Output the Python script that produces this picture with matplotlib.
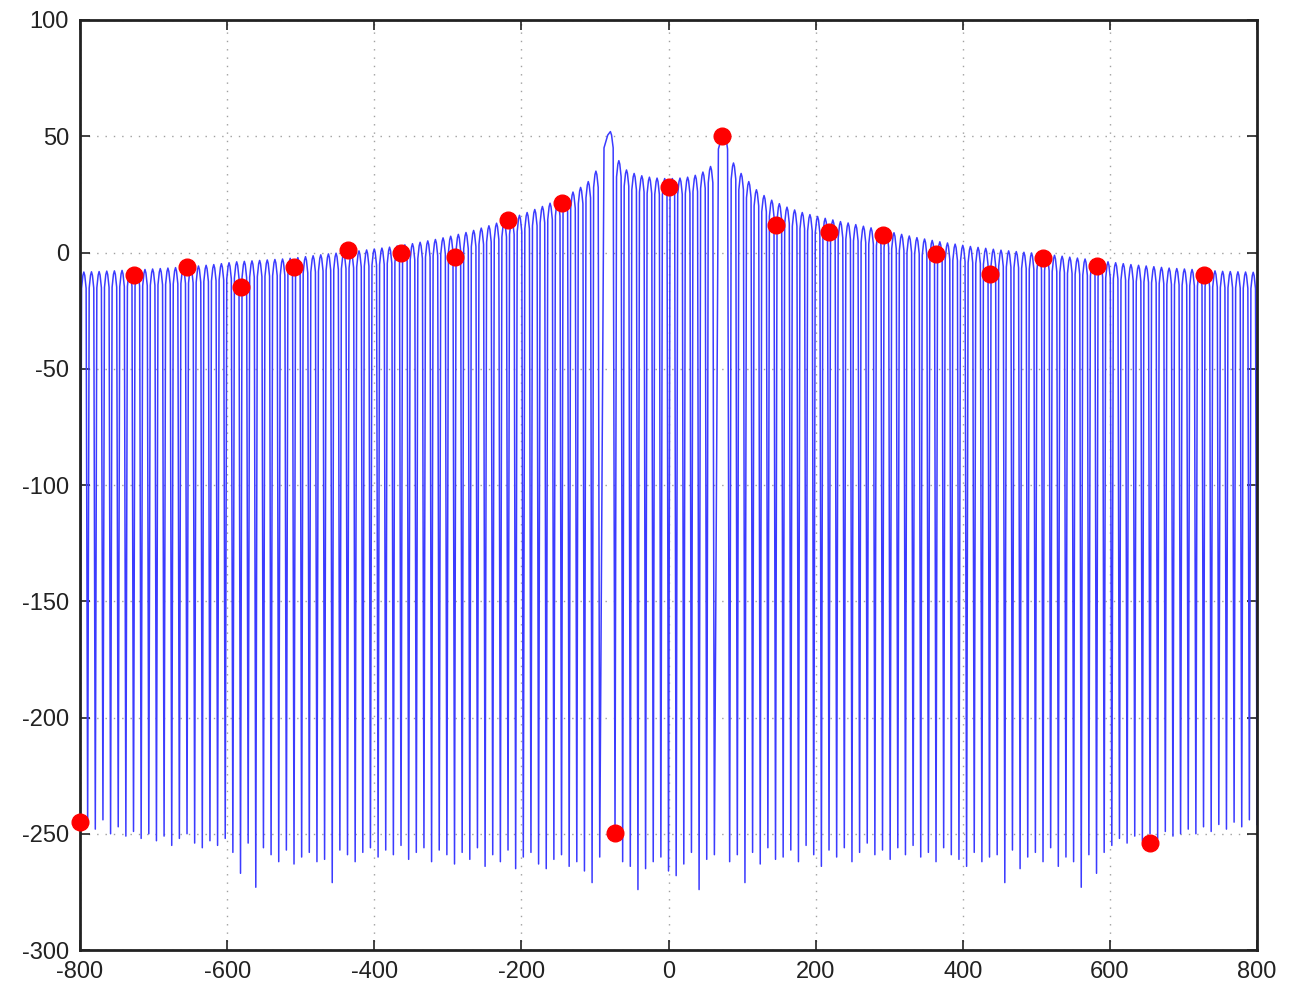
import matplotlib
matplotlib.use("Agg")
import matplotlib.pyplot as plt
import numpy as np

plt.rcParams['font.family'] = ['Liberation Sans', 'DejaVu Sans']
plt.rcParams['axes.unicode_minus'] = False

# spectrum (dB): null positions sit on a regular frequency grid, two nulls are
# missing under the main peaks
grid_x = np.linspace(-800, 800, 155)
missing_nulls = [69, 84]

# depth of each null (dB), left to right
null_db = [
    -245, -246, -248, -244, -250, -247, -251, -249, -252, -250,
    -253, -251, -255, -252, -250, -254, -256, -253, -255, -252,
    -258, -267, -254, -273, -256, -259, -262, -257, -263, -260,
    -258, -262, -261, -271, -257, -259, -262, -258, -256, -260,
    -257, -259, -255, -261, -258, -256, -262, -257, -259, -263,
    -258, -261, -256, -264, -259, -262, -257, -265, -260, -258,
    -263, -265, -261, -259, -264, -262, -266, -271, -260,
    -250, -262, -264, -274, -265, -262, -260, -266, -268, -263,
    -258, -274, -261, -259,
    -262, -259, -271, -258, -263, -256, -261, -260, -257, -262,
    -255, -259, -264, -257, -260, -256, -262, -258, -254, -259,
    -257, -261, -256, -259, -255, -260, -258, -262, -256, -259,
    -261, -264, -258, -262, -260, -259, -271, -257, -265, -260,
    -258, -262, -256, -264, -260, -262, -273, -259, -267, -258,
    -255, -252, -254, -251, -253, -250, -252, -249, -251, -250,
    -248, -250, -247, -249, -246, -248, -245, -247, -244, -246,
]

# top of each lobe (dB), left to right
lobe_db = [
    -8.4, -8.3, -8.2, -8.0, -7.9, -7.7, -7.6, -7.4, -7.3, -7.1,
    -6.9, -6.7, -6.5, -6.3, -6.1, -5.8, -5.5, -5.2, -4.8, -4.4,
    -4.0, -3.8, -3.6, -3.4, -3.2, -3.0, -2.8, -2.5, -2.2, -1.8,
    -1.4, -1.0, -0.6, -0.3, 0.0, 0.3, 0.7, 1.1, 1.5, 1.9,
    2.3, 2.8, 3.3, 3.8, 4.4, 5.0, 5.6, 6.3, 7.0, 7.8,
    8.6, 9.5, 10.5, 11.5, 12.6, 13.7, 14.8, 16.0, 17.2, 18.5,
    19.8, 21.2, 22.7, 24.3, 26.0, 28.0, 30.5, 35.0,
    52.0,
    39.5, 35.5, 34.0, 33.0, 32.4, 32.0, 31.8, 31.8, 32.0, 32.4,
    33.2, 34.6, 37.0,
    51.5,
    38.5, 34.0, 30.5, 27.0, 24.5, 22.5, 21.0, 19.5, 18.3, 17.2,
    16.3, 15.5, 14.7, 14.0, 13.3, 12.7, 12.0, 11.3, 10.6, 9.9,
    9.2, 8.5, 7.8, 7.1, 6.4, 5.8, 5.2, 4.6, 4.1, 3.6,
    3.1, 2.6, 2.2, 1.8, 1.4, 1.0, 0.7, 0.4, 0.1, -0.2,
    -0.5, -0.8, -1.2, -1.6, -2.0, -2.4, -2.8, -3.2, -3.6, -4.0,
    -4.4, -4.8, -5.2, -5.5, -5.8, -6.1, -6.4, -6.7, -6.9, -7.1,
    -7.3, -7.5, -7.7, -7.9, -8.1, -8.2, -8.3, -8.4, -8.5,
]

# the two main peaks (lobe index, frequency)
main_lobes = [68, 82]
main_peak_x = [-79, 76]

# sampled points (red dots)
dot_x = np.linspace(-800, 800, 23)[:-1]
dot_db = [-245, -9.7, -6.2, -14.8, -6.2, 1.1, -0.2, -1.9, 14.0, 21.3, -249.7,
          28.2, 50.0, 12.0, 8.8, 7.5, -0.6, -9.2, -2.4, -5.8, -254.0, -9.7]

# lobe outline: fraction of the way from null to peak, and dB below the peak
shape_f = [0.4, 0.75]
shape_drop = [-7, -1.5]

null_x = np.delete(grid_x, missing_nulls)
peak_x = (null_x[:-1] + null_x[1:]) / 2
for i, px in zip(main_lobes, main_peak_x):
    peak_x[i] = px

xs, ys = [], []
for i in range(len(lobe_db)):
    xs.append(null_x[i]); ys.append(null_db[i])
    for f, dr in zip(shape_f, shape_drop):
        xs.append(null_x[i] + f * (peak_x[i] - null_x[i])); ys.append(lobe_db[i] + dr)
    xs.append(peak_x[i]); ys.append(lobe_db[i])
    for f, dr in zip(shape_f[::-1], shape_drop[::-1]):
        xs.append(null_x[i + 1] + f * (peak_x[i] - null_x[i + 1])); ys.append(lobe_db[i] + dr)
xs.append(null_x[-1]); ys.append(null_db[-1])

fig = plt.figure(figsize=(13.01, 9.85), dpi=100)
ax = fig.add_axes([0.0615, 0.0355, 0.9047, 0.9442])

ax.plot(xs, ys, color='#3b3bff', linewidth=1.1)
ax.plot(dot_x, dot_db, 'o', color='red', markersize=12, clip_on=False, zorder=5)

ax.set_xlim(-800, 800)
ax.set_ylim(-300, 100)
ax.set_xticks(np.arange(-800, 801, 200))
ax.set_yticks(np.arange(-300, 101, 50))
ax.grid(True, linestyle=(0, (1, 5)), color='#a0a0a0', linewidth=1.0)
ax.set_axisbelow(True)
ax.tick_params(direction='in', length=7, width=1.2, top=True, right=True,
               labelsize=17, colors='#222222', pad=8)
for s in ax.spines.values():
    s.set_linewidth(2.0)
    s.set_color('#222222')

fig.savefig('out.png', dpi=100)
